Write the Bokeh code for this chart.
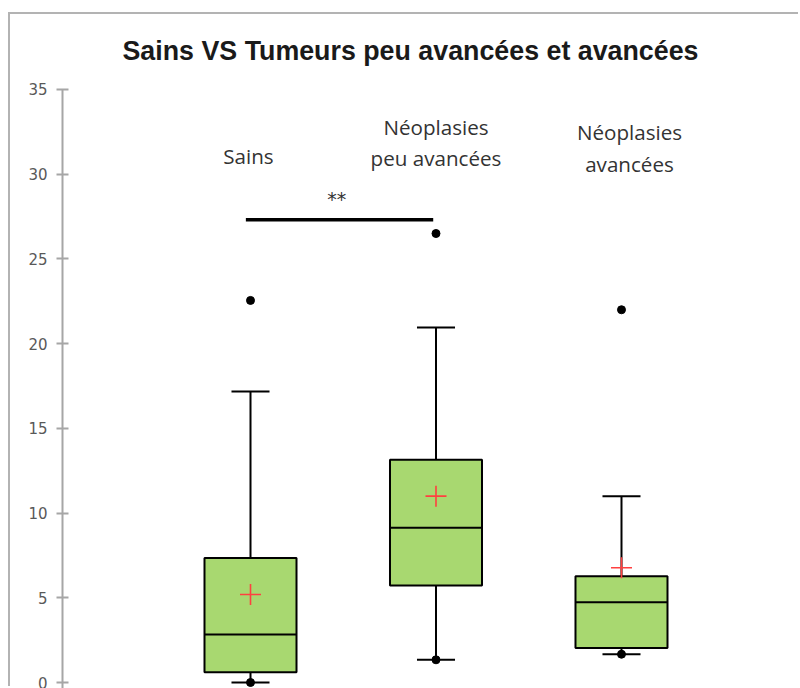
from bokeh.plotting import figure
from bokeh.models import FixedTicker, Range1d
from bokeh.core.properties import value
from bokeh.embed import file_html
from bokeh.resources import INLINE

# ---------------- data ----------------
title_text = "Sains VS Tumeurs peu avancées et avancées"
categories = ["Sains", "Néoplasies\npeu avancées", "Néoplasies\navancées"]
q1 = [0.61, 5.72, 2.03]
medians = [2.83, 9.13, 4.74]
q3 = [7.35, 13.14, 6.27]
whisker_low = [0.0, 1.34, 1.67]
whisker_high = [17.18, 20.95, 11.0]
means = [5.19, 11.0, 6.77]
minimums = [0.0, 1.34, 1.67]
maximums = [22.55, 26.5, 22.0]
y_ticks = [0, 5, 10, 15, 20, 25, 30, 35]
sig_pair = (0, 1)
sig_level = 27.31
sig_text = "**"

# ---------------- layout ----------------
pos = [i + 1 for i in range(len(categories))]
box_w = 0.496
cap_w = 0.205
y_lo, y_hi = -0.354, 35.826
label_y = [31.1, 31.87, 31.55]
label_dx = [-0.011, 0.0, 0.043]

p = figure(width=790, height=674, output_backend="svg", toolbar_location=None,
           x_range=Range1d(-0.0135, 3.965), y_range=Range1d(y_lo, y_hi),
           x_axis_location=None, min_border_left=52, min_border_right=0,
           min_border_bottom=0, min_border_top=61)
p.margin = (14, 0, 0, 10)
p.styles = {"box-shadow": "-2px -2px 0px 0px #b3b3b3"}
p.outline_line_color = None
p.grid.visible = False
p.background_fill_color = "white"
p.border_fill_color = "white"

# title
p.title.text = title_text
p.title.align = "left"
p.title.offset = 60
p.title.text_font = "Liberation Sans"
p.title.text_font_size = "26.8px"
p.title.text_font_style = "bold"
p.title.text_color = "#1a1a1a"
p.title.standoff = 19

# y axis
ax = p.yaxis[0]
ax.ticker = FixedTicker(ticks=y_ticks)
ax.bounds = (y_lo, max(y_ticks))
ax.axis_line_color = "#a6a6a6"
ax.axis_line_width = 2
ax.major_tick_line_color = "#a6a6a6"
ax.major_tick_line_width = 2
ax.major_tick_in = 6
ax.major_tick_out = 6
ax.minor_tick_line_color = None
ax.major_label_text_font = "DejaVu Sans"
ax.major_label_text_font_size = "15px"
ax.major_label_text_color = "#595959"
ax.major_label_standoff = 9

# whiskers
p.segment(x0=pos, x1=pos, y0=whisker_low, y1=q1, line_color="black", line_width=2)
p.segment(x0=pos, x1=pos, y0=q3, y1=whisker_high, line_color="black", line_width=2)
p.segment(x0=[x - cap_w / 2 for x in pos], x1=[x + cap_w / 2 for x in pos],
          y0=whisker_low, y1=whisker_low, line_color="black", line_width=2)
p.segment(x0=[x - cap_w / 2 for x in pos], x1=[x + cap_w / 2 for x in pos],
          y0=whisker_high, y1=whisker_high, line_color="black", line_width=2)

# boxes
p.vbar(x=pos, width=box_w, bottom=q1, top=q3, fill_color="#a8d870",
       line_color="black", line_width=2)
p.segment(x0=[x - box_w / 2 for x in pos], x1=[x + box_w / 2 for x in pos],
          y0=medians, y1=medians, line_color="black", line_width=2)

# min / max points
p.scatter(x=pos, y=minimums, marker="circle", size=8, fill_color="black", line_color="black")
p.scatter(x=pos, y=maximums, marker="circle", size=8, fill_color="black", line_color="black")

# means
p.scatter(x=pos, y=means, marker="cross", size=21, line_color="#ff4040", line_width=1.6)

# significance bar
sx0 = pos[sig_pair[0]] - 0.025
sx1 = pos[sig_pair[1]] - 0.015
p.segment(x0=[sx0], x1=[sx1], y0=[sig_level], y1=[sig_level], line_color="black", line_width=3.5)
p.text(x=[(sx0 + sx1) / 2 - 0.015], y=[sig_level + 1.2], text=[sig_text], text_align="center",
       text_baseline="alphabetic", text_font=value("DejaVu Sans"), text_font_size="19px",
       text_color="#333333")

# category labels
p.text(x=[x + d for x, d in zip(pos, label_dx)], y=label_y, text=categories,
       text_align="center", text_baseline="middle", text_font=value("Open Sans"),
       text_font_size="20.6px", text_color="#333333", text_line_height=1.12)

open("out.html", "w").write(file_html(p, INLINE))
